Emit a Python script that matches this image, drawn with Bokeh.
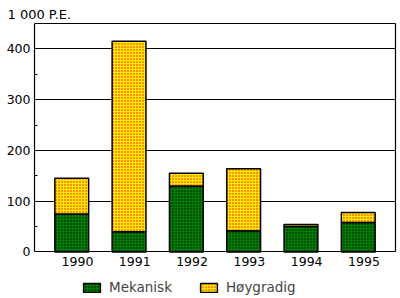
from bokeh.plotting import figure
from bokeh.models import ColumnDataSource, Range1d, FixedTicker, Legend, LegendItem, LinearAxis
from bokeh.transform import stack
from bokeh.embed import file_html
from bokeh.resources import INLINE

years = ["1990", "1991", "1992", "1993", "1994", "1995"]
mekanisk = [75, 40, 130, 42, 50, 58]
hoygradig = [70, 375, 25, 122, 4, 20]
y_ticks = [0, 100, 200, 300, 400]
y_minor = [50, 150, 250, 350]

FONT = "DejaVu Sans"
FS = "12.5px"

xs = list(range(len(years)))
source = ColumnDataSource(dict(x=xs, mek=mekanisk, hoy=hoygradig))

p = figure(frame_width=361, frame_height=275, output_backend="svg", toolbar_location=None,
           x_range=Range1d(-0.65, 5.65), y_range=Range1d(-91.6, 450),
           min_border_left=34, min_border_right=5, min_border_top=23, min_border_bottom=0)

p.title.text = "1 000 P.E."
p.title.text_font = FONT
p.title.text_font_size = "13px"
p.title.text_font_style = "normal"
p.title.align = "left"
p.title.offset = -27
p.title.standoff = 4
p.title.text_color = "black"

r1 = p.vbar(x="x", bottom=0, top=stack("mek"), width=0.59, source=source,
            fill_color="#008000", line_color="black", line_width=1.5,
            hatch_pattern="dot", hatch_color="black", hatch_scale=3, hatch_weight=1)
r2 = p.vbar(x="x", bottom=stack("mek"), top=stack("mek", "hoy"), width=0.59, source=source,
            fill_color="#ffee00", line_color="black", line_width=1.5,
            hatch_pattern="dot", hatch_color="#ff0000", hatch_scale=3, hatch_weight=1)

p.outline_line_color = None
p.xgrid.visible = False
p.ygrid.ticker = FixedTicker(ticks=y_ticks)
p.ygrid.grid_line_color = "black"
p.ygrid.grid_line_alpha = 1
p.ygrid.grid_line_width = 1.2

p.yaxis.ticker = FixedTicker(ticks=y_ticks, minor_ticks=y_minor)
p.yaxis.bounds = (0, 450)
p.yaxis.major_tick_in = 0
p.yaxis.major_tick_out = 0
p.yaxis.minor_tick_in = 3
p.yaxis.minor_tick_out = 0
p.yaxis.major_label_standoff = 4

p.xaxis.ticker = FixedTicker(ticks=[i + 0.1 for i in xs])
p.xaxis.major_label_overrides = {i + 0.1: y for i, y in zip(xs, years)}
p.xaxis.fixed_location = 0
p.xaxis.major_tick_in = 0
p.xaxis.major_tick_out = 0
p.xaxis.minor_tick_in = 0
p.xaxis.minor_tick_out = 0
p.xaxis.major_label_standoff = 5

for ax in (p.xaxis, p.yaxis):
    ax.axis_line_color = "black"
    ax.axis_line_width = 1.2
    ax.major_label_text_font = FONT
    ax.major_label_text_font_size = FS
    ax.major_label_text_color = "black"

# frame border on top and right, drawn as bare axes
right_ax = LinearAxis(ticker=FixedTicker(ticks=[]), bounds=(0, 450),
                      major_tick_in=0, major_tick_out=0, minor_tick_in=0, minor_tick_out=0,
                      axis_line_color="black", axis_line_width=1.2)
top_ax = LinearAxis(ticker=FixedTicker(ticks=[]),
                    major_tick_in=0, major_tick_out=0, minor_tick_in=0, minor_tick_out=0,
                    axis_line_color="black", axis_line_width=1.2)
p.add_layout(right_ax, "right")
p.add_layout(top_ax, "above")

legend = Legend(items=[LegendItem(label="Mekanisk", renderers=[r1]),
                       LegendItem(label="Høygradig", renderers=[r2])],
                orientation="horizontal", location=(47, 3),
                glyph_width=21, glyph_height=11, label_standoff=7, spacing=26,
                border_line_color=None, background_fill_alpha=0,
                label_text_font=FONT, label_text_font_size="13.5px",
                margin=0, padding=2)
p.add_layout(legend, "center")

open("out.html", "w").write(file_html(p, INLINE))
